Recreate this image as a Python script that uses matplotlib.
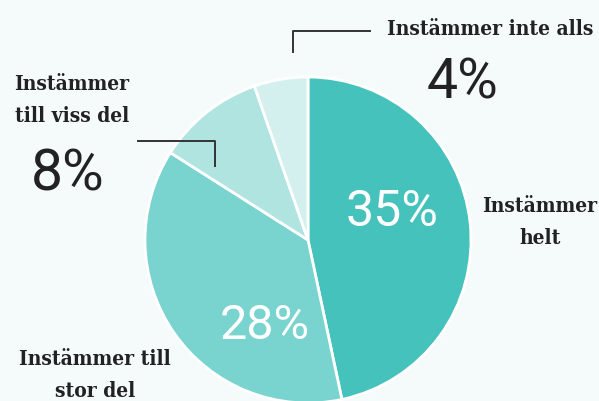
import matplotlib.pyplot as plt

# survey answers, clockwise from the top
labels = ["Instämmer\nhelt", "Instämmer till\nstor del", "Instämmer\ntill viss del", "Instämmer inte alls"]
shares = [35, 28, 8, 4]
colors = ["#45c2bb", "#79d3ce", "#b0e4e1", "#d3efee"]

BG = "#f5fbfb"
INK = "#222222"
W, H = 599, 401

fig = plt.figure(figsize=(W / 100, H / 100), dpi=100, facecolor=BG)
ax = fig.add_axes([0, 0, 1, 1])
ax.set_facecolor(BG)

cx, cy, r = 308, H - 240, 163
ax.pie(shares, colors=colors, startangle=90, counterclock=False,
       center=(cx, cy), radius=r, frame=True,
       wedgeprops=dict(edgecolor="white", linewidth=2))
ax.set_xlim(0, W)
ax.set_ylim(0, H)
ax.set_aspect("equal")
ax.axis("off")

label_font = dict(family="DejaVu Serif", weight="bold", stretch="condensed", color=INK,
                  ha="center", va="center", linespacing=1.8, fontsize=15)
pct_font = dict(family="Roboto", ha="center", va="center")


def y(py):
    return H - py


# category names
ax.text(540, y(222), labels[0], **label_font)
ax.text(95, y(375), labels[1], **label_font)
ax.text(72, y(100), labels[2], **label_font)
ax.text(490, y(29), labels[3], **label_font)

# percentages
ax.text(392, y(212), f"{shares[0]}%", fontsize=36, color="white", **pct_font)
ax.text(265, y(326), f"{shares[1]}%", fontsize=35, color="white", **pct_font)
ax.text(68, y(175), f"{shares[2]}%", fontsize=41, color=INK, **pct_font)
ax.text(463, y(83), f"{shares[3]}%", fontsize=40, color=INK, **pct_font)

# leader lines
ax.plot([138, 215, 215], [y(141), y(141), y(166)], color="#333333", lw=1.4)
ax.plot([293, 293, 370], [y(52), y(31), y(31)], color="#333333", lw=1.4)

fig.savefig("out.png", dpi=100, facecolor=BG)
